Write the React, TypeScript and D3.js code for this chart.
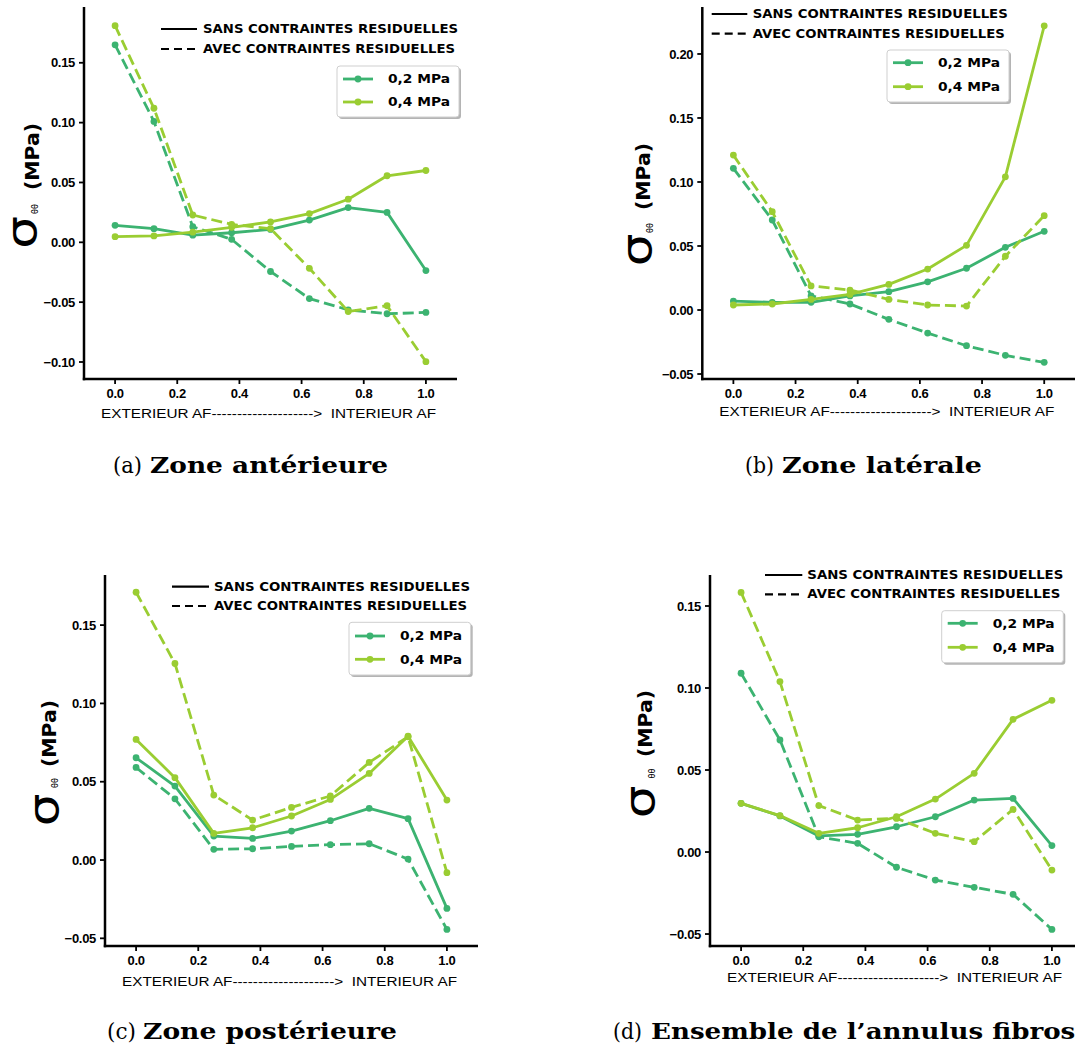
import React from 'react';
import * as d3 from 'd3';

// ---------- DATA ----------
const xPositions = [0, 0.125, 0.25, 0.375, 0.5, 0.625, 0.75, 0.875, 1.0];
const xTicks = [0, 0.2, 0.4, 0.6, 0.8, 1.0];

// (a) Zone antérieure
const antSans02 = [0.0142, 0.0114, 0.006, 0.008, 0.0108, 0.0186, 0.029, 0.025, -0.0236];
const antSans04 = [0.0047, 0.0053, 0.0085, 0.0125, 0.017, 0.024, 0.036, 0.0556, 0.06];
const antAvec02 = [0.165, 0.101, 0.013, 0.0025, -0.0244, -0.047, -0.0564, -0.0597, -0.0586];
const antAvec04 = [0.181, 0.112, 0.0228, 0.015, 0.0114, -0.0217, -0.0578, -0.053, -0.0997];

// (b) Zone latérale
const latSans02 = [0.007, 0.006, 0.006, 0.011, 0.0143, 0.022, 0.0326, 0.049, 0.0615];
const latSans04 = [0.0039, 0.0047, 0.0083, 0.0122, 0.02, 0.032, 0.0505, 0.104, 0.222];
const latAvec02 = [0.1107, 0.0703, 0.011, 0.0047, -0.0073, -0.018, -0.0279, -0.0354, -0.0409];
const latAvec04 = [0.121, 0.0768, 0.0188, 0.0156, 0.0083, 0.0039, 0.0031, 0.042, 0.0737];

// (c) Zone postérieure
const posSans02 = [0.0653, 0.0472, 0.0153, 0.0138, 0.0185, 0.0251, 0.033, 0.0264, -0.0309];
const posSans04 = [0.077, 0.0526, 0.017, 0.0206, 0.0281, 0.0387, 0.0553, 0.0791, 0.0383];
const posAvec02 = [0.0591, 0.0391, 0.0068, 0.0072, 0.0087, 0.0098, 0.0104, 0.0006, -0.0443];
const posAvec04 = [0.171, 0.1255, 0.0415, 0.0255, 0.0336, 0.0409, 0.0623, 0.0787, -0.0081];

// (d) Ensemble de l'annulus fibrosus
const ensSans02 = [0.0297, 0.022, 0.0098, 0.0108, 0.0154, 0.0215, 0.0317, 0.0327, 0.0039];
const ensSans04 = [0.0297, 0.0222, 0.0114, 0.0148, 0.0215, 0.0323, 0.048, 0.0809, 0.0925];
const ensAvec02 = [0.109, 0.0683, 0.0093, 0.0053, -0.0093, -0.0171, -0.0215, -0.0258, -0.0472];
const ensAvec04 = [0.1583, 0.1039, 0.0283, 0.0195, 0.0205, 0.0114, 0.0063, 0.026, -0.011];

const yTicksA = [-0.1, -0.05, 0, 0.05, 0.1, 0.15];
const yTicksB = [-0.05, 0, 0.05, 0.1, 0.15, 0.2];
const yTicksC = [-0.05, 0, 0.05, 0.1, 0.15];
const yTicksD = [-0.05, 0, 0.05, 0.1, 0.15];

const legendStyleLabels = ['SANS CONTRAINTES RESIDUELLES', 'AVEC CONTRAINTES RESIDUELLES'];
const legendPressureLabels = ['0,2 MPa', '0,4 MPa'];
const xAxisLabel = 'EXTERIEUR AF-------------------->\u00a0\u00a0INTERIEUR AF';

const COLOR_02 = '#3cb371';
const COLOR_04 = '#9acd32';

type PanelCfg = {
  rect: { left: number; top: number; right: number; bottom: number };
  yDomain: [number, number];
  yTicks: number[];
  sans02: number[]; sans04: number[]; avec02: number[]; avec04: number[];
  styleLeg: { x0: number; x1: number; tx: number; tw: number; y1: number; y2: number };
  colorLeg: { x: number; y: number; w: number; h: number; r1: number; r2: number };
  ylab: { sx: number; sy: number; bx: number; by: number; mx: number; my: number };
  xlabY: number;
  caption: { lx: number; label: string; tx: number; text: string; tw: number; y: number };
};

const panels: PanelCfg[] = [
  {
    rect: { left: 84, top: 7, right: 457, bottom: 379 },
    yDomain: [-0.1142, 0.1966], yTicks: yTicksA,
    sans02: antSans02, sans04: antSans04, avec02: antAvec02, avec04: antAvec04,
    styleLeg: { x0: 161, x1: 197, tx: 203, tw: 255, y1: 29, y2: 49 },
    colorLeg: { x: 337, y: 66, w: 122, h: 51, r1: 79, r2: 102 },
    ylab: { sx: 35, sy: 232.5, bx: 38, by: 209, mx: 39, my: 156.5 },
    xlabY: 418,
    caption: { lx: 113, label: '(a)', tx: 150, text: 'Zone antérieure', tw: 238, y: 473 },
  },
  {
    rect: { left: 702.3, top: 7, right: 1075.3, bottom: 379 },
    yDomain: [-0.0539, 0.2367], yTicks: yTicksB,
    sans02: latSans02, sans04: latSans04, avec02: latAvec02, avec04: latAvec04,
    styleLeg: { x0: 711.7, x1: 747.3, tx: 752.7, tw: 255, y1: 14, y2: 33.7 },
    colorLeg: { x: 887, y: 50, w: 122, h: 52, r1: 62.7, r2: 86.7 },
    ylab: { sx: 650, sy: 250, bx: 653, by: 228, mx: 650, my: 176.5 },
    xlabY: 416,
    caption: { lx: 745, label: '(b)', tx: 782, text: 'Zone latérale', tw: 200, y: 473 },
  },
  {
    rect: { left: 105, top: 575, right: 478, bottom: 946 },
    yDomain: [-0.0549, 0.182], yTicks: yTicksC,
    sans02: posSans02, sans04: posSans04, avec02: posAvec02, avec04: posAvec04,
    styleLeg: { x0: 172, x1: 209, tx: 214, tw: 256, y1: 586.7, y2: 606 },
    colorLeg: { x: 349, y: 622.3, w: 121.7, h: 52.7, r1: 636, r2: 659.3 },
    ylab: { sx: 57, sy: 810, bx: 58, by: 783, mx: 55.5, my: 733.5 },
    xlabY: 986,
    caption: { lx: 107, label: '(c)', tx: 143, text: 'Zone postérieure', tw: 254, y: 1039 },
  },
  {
    rect: { left: 710, top: 575, right: 1083, bottom: 946 },
    yDomain: [-0.0573, 0.1689], yTicks: yTicksD,
    sans02: ensSans02, sans04: ensSans04, avec02: ensAvec02, avec04: ensAvec04,
    styleLeg: { x0: 765, x1: 802.3, tx: 807.3, tw: 256, y1: 575, y2: 594.3 },
    colorLeg: { x: 941.7, y: 610.7, w: 121.6, h: 52, r1: 623.3, r2: 647.3 },
    ylab: { sx: 653, sy: 802, bx: 655, by: 773.5, mx: 652, my: 723.5 },
    xlabY: 982,
    caption: { lx: 613, label: '(d)', tx: 651, text: 'Ensemble de l\u2019annulus fibrosus', tw: 458, y: 1039 },
  },
];

const TICK_FONT = '"Liberation Sans", Arial, sans-serif';
const LEG_FONT = '"DejaVu Sans", sans-serif';
const LW = 2.8;
const DASH = '11,5';

function Panel({ p }: { p: PanelCfg }) {
  const { rect } = p;
  const x = d3.scaleLinear().domain([-0.1, 1.1]).range([rect.left, rect.right]);
  const y = d3.scaleLinear().domain(p.yDomain).range([rect.bottom, rect.top]);
  const line = d3.line<number>().x((_, i) => x(xPositions[i])).y((d) => y(d));
  const fmtY = d3.format('.2f');
  const fmtX = d3.format('.1f');

  const series = [
    { vals: p.sans02, color: COLOR_02, dash: undefined },
    { vals: p.avec02, color: COLOR_02, dash: DASH },
    { vals: p.sans04, color: COLOR_04, dash: undefined },
    { vals: p.avec04, color: COLOR_04, dash: DASH },
  ];

  const xlabCenter = (rect.left + rect.right) / 2 - 2;
  const cl = p.colorLeg;
  const sl = p.styleLeg;

  return (
    <g>
      {/* spines */}
      <line x1={rect.left} x2={rect.left} y1={rect.top} y2={rect.bottom + 1.2} stroke="#000" strokeWidth={2.5} />
      <line x1={rect.left - 1.2} x2={rect.right} y1={rect.bottom} y2={rect.bottom} stroke="#000" strokeWidth={2.5} />
      {/* y ticks */}
      {p.yTicks.map((t) => (
        <g key={'y' + t}>
          <line x1={rect.left - 5} x2={rect.left} y1={y(t)} y2={y(t)} stroke="#000" strokeWidth={1.8} />
          <text x={rect.left - 9} y={y(t)} dy="0.36em" textAnchor="end" fontFamily={TICK_FONT}
            fontWeight="bold" fontSize={13} letterSpacing={-0.3}>{fmtY(t)}</text>
        </g>
      ))}
      {/* x ticks */}
      {xTicks.map((t) => (
        <g key={'x' + t}>
          <line x1={x(t)} x2={x(t)} y1={rect.bottom} y2={rect.bottom + 5} stroke="#000" strokeWidth={1.8} />
          <text x={x(t)} y={rect.bottom + 19} textAnchor="middle" fontFamily={TICK_FONT}
            fontWeight="bold" fontSize={13} letterSpacing={-0.3}>{fmtX(t)}</text>
        </g>
      ))}
      {/* x label */}
      <text x={xlabCenter} y={p.xlabY} textAnchor="middle" fontFamily={TICK_FONT} fontSize={12}
        textLength={335} lengthAdjust="spacingAndGlyphs">{xAxisLabel}</text>
      {/* y label */}
      <text transform={`translate(${p.ylab.sx + 1},${p.ylab.sy}) rotate(-90) scale(1.2,1)`} textAnchor="middle"
        fontFamily={LEG_FONT} fontSize={43}>σ</text>
      <text transform={`translate(${p.ylab.bx},${p.ylab.by}) rotate(-90)`} textAnchor="middle"
        fontFamily={LEG_FONT} fontSize={8}>θθ</text>
      <text transform={`translate(${p.ylab.mx},${p.ylab.my}) rotate(-90)`} textAnchor="middle"
        fontFamily={LEG_FONT} fontWeight="bold" fontSize={19} textLength={67}
        lengthAdjust="spacingAndGlyphs">(MPa)</text>
      {/* series */}
      {series.map((s, si) => (
        <g key={'s' + si}>
          <path d={line(s.vals) || ''} fill="none" stroke={s.color} strokeWidth={LW}
            strokeDasharray={s.dash} strokeLinejoin="round" />
          {s.vals.map((v, i) => (
            <circle key={i} cx={x(xPositions[i])} cy={y(v)} r={3.4} fill={s.color} />
          ))}
        </g>
      ))}
      {/* style legend */}
      <line x1={sl.x0} x2={sl.x1} y1={sl.y1} y2={sl.y1} stroke="#000" strokeWidth={2.2} />
      <line x1={sl.x0} x2={sl.x1} y1={sl.y2} y2={sl.y2} stroke="#000" strokeWidth={2.2} strokeDasharray="8,5" />
      <text x={sl.tx} y={sl.y1} dy="0.36em" fontFamily={LEG_FONT} fontWeight="bold" fontSize={11.5}
        textLength={sl.tw} lengthAdjust="spacingAndGlyphs">{legendStyleLabels[0]}</text>
      <text x={sl.tx} y={sl.y2} dy="0.36em" fontFamily={LEG_FONT} fontWeight="bold" fontSize={11.5}
        textLength={sl.tw - 3} lengthAdjust="spacingAndGlyphs">{legendStyleLabels[1]}</text>
      {/* color legend */}
      <rect x={cl.x + 2} y={cl.y + 2} width={cl.w} height={cl.h} rx={3} fill="#777" opacity={0.55} />
      <rect x={cl.x} y={cl.y} width={cl.w} height={cl.h} rx={3} fill="#fff" stroke="#cfcfcf" strokeWidth={1} />
      {[cl.r1, cl.r2].map((ry, i) => (
        <g key={'cl' + i}>
          <line x1={cl.x + 6} x2={cl.x + 36} y1={ry} y2={ry} stroke={i === 0 ? COLOR_02 : COLOR_04} strokeWidth={LW} />
          <circle cx={cl.x + 21} cy={ry} r={3.4} fill={i === 0 ? COLOR_02 : COLOR_04} />
          <text x={cl.x + 51} y={ry} dy="0.36em" fontFamily={LEG_FONT} fontWeight="bold" fontSize={12}
            textLength={62} lengthAdjust="spacingAndGlyphs">{legendPressureLabels[i]}</text>
        </g>
      ))}
      {/* caption */}
      <text x={p.caption.lx} y={p.caption.y} fontFamily='"DejaVu Serif", serif' fontSize={23}
        textLength={29} lengthAdjust="spacingAndGlyphs">{p.caption.label}</text>
      <text x={p.caption.tx} y={p.caption.y} fontFamily='"DejaVu Serif", serif' fontWeight="bold" fontSize={23}
        textLength={p.caption.tw} lengthAdjust="spacingAndGlyphs">{p.caption.text}</text>
    </g>
  );
}

export default function App() {
  return (
    <svg width={1075} height={1047} viewBox="0 0 1075 1047"
      style={{ position: 'absolute', left: 0, top: 0, display: 'block', background: '#fff' }}>
      <rect x={0} y={0} width={1075} height={1047} fill="#fff" />
      {panels.map((p, i) => (
        <Panel key={i} p={p} />
      ))}
    </svg>
  );
}
